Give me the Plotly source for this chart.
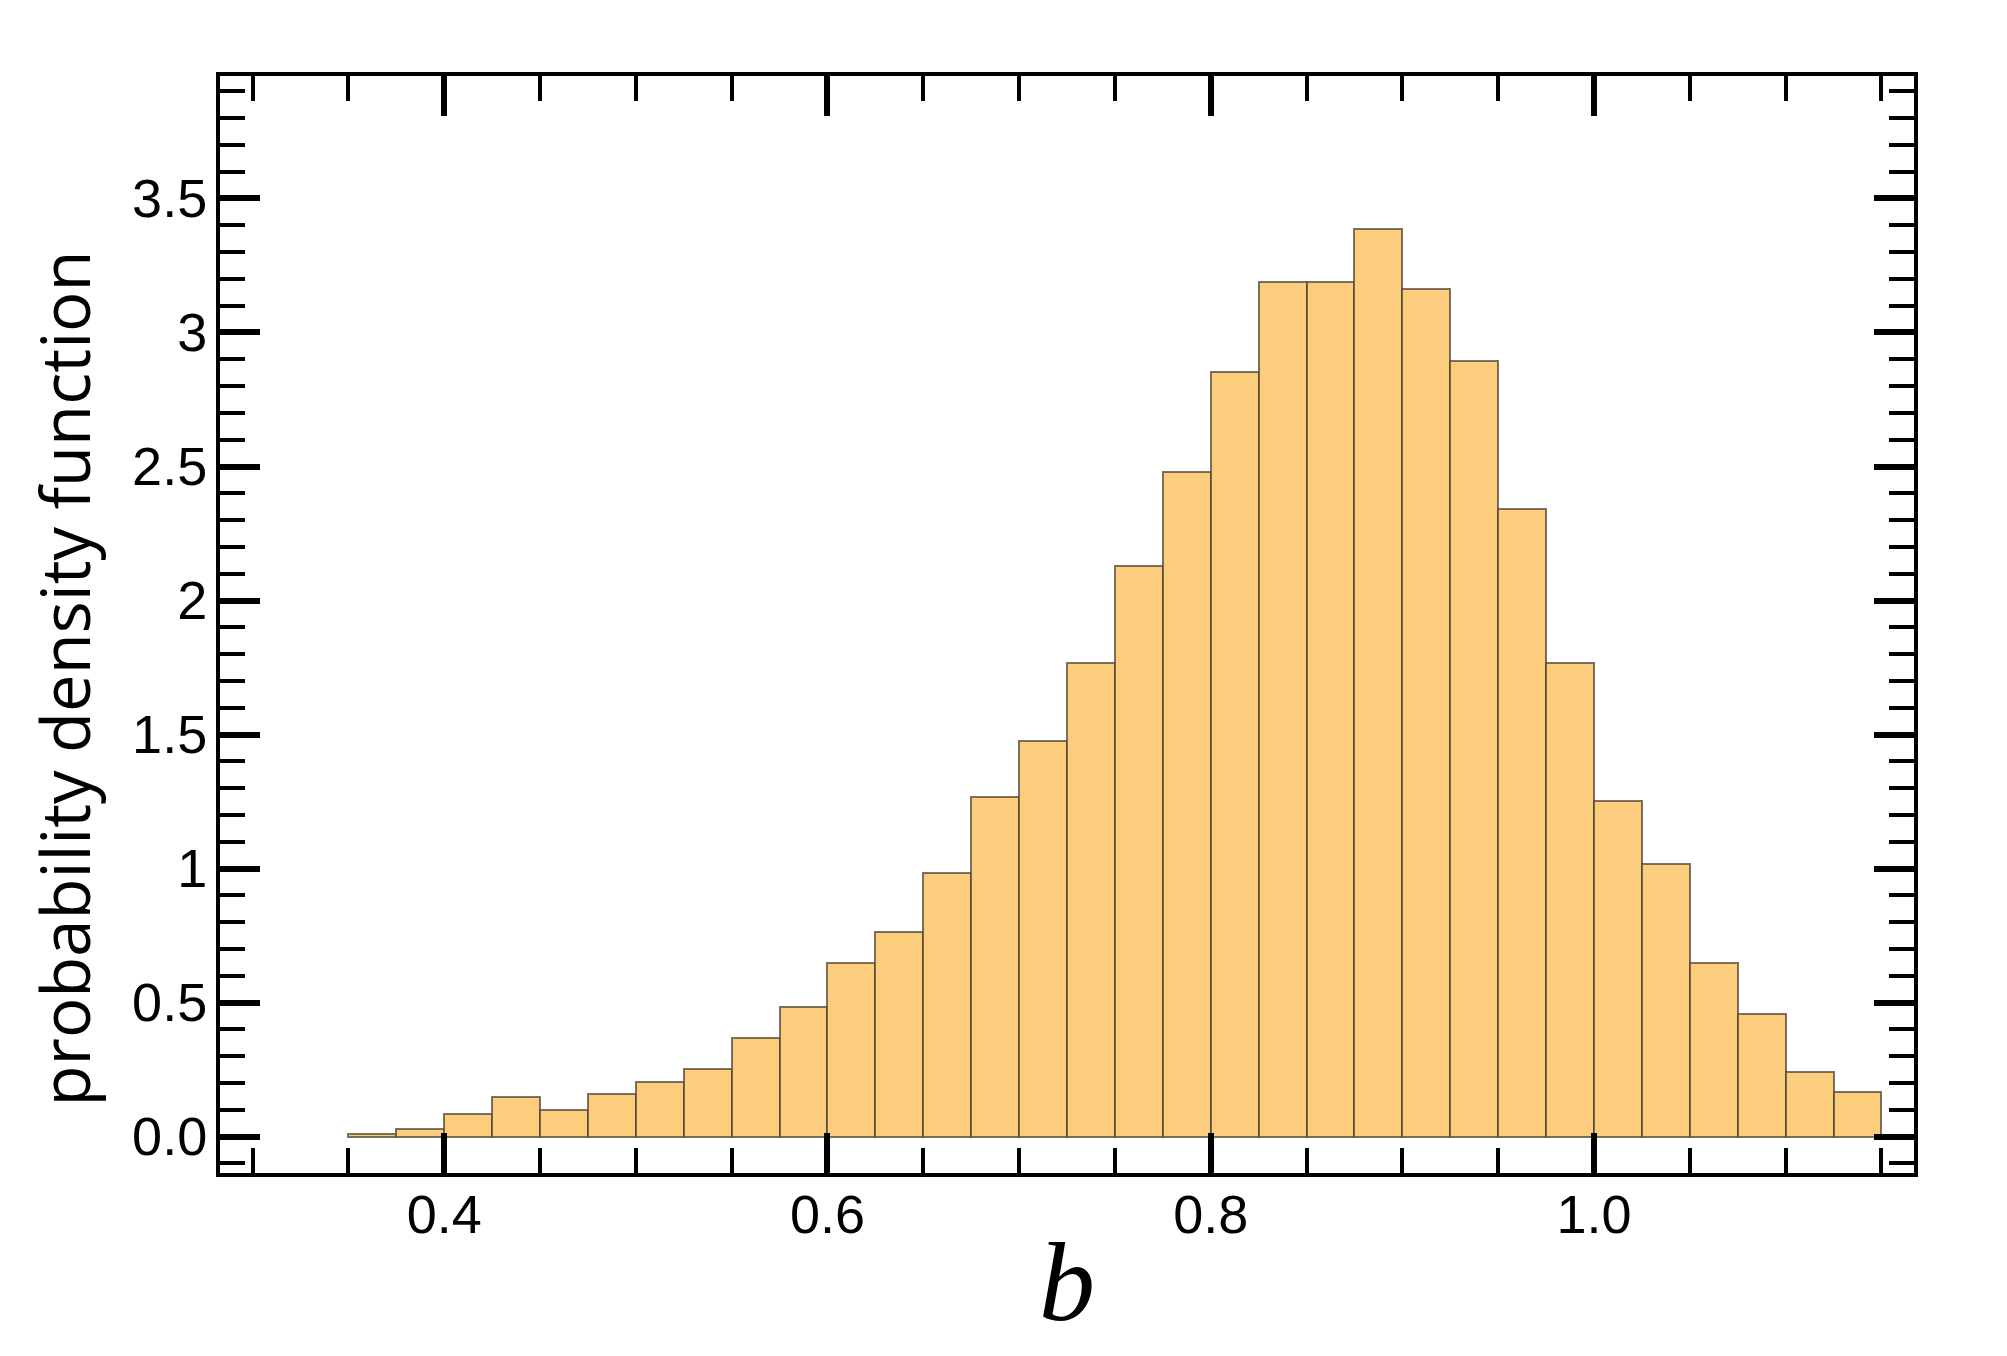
import plotly.graph_objects as go

# histogram of b, bin width 0.025 starting at 0.35
bin_start = 0.35
bin_width = 0.025
density = [0.01, 0.03, 0.086, 0.148, 0.10, 0.158, 0.205, 0.253,
           0.368, 0.482, 0.649, 0.764, 0.984, 1.266, 1.476, 1.767,
           2.13, 2.478, 2.851, 3.19, 3.19, 3.386, 3.161, 2.894,
           2.34, 1.767, 1.251, 1.017, 0.649, 0.458, 0.239, 0.167]

x_ticks = [0.4, 0.6, 0.8, 1.0]
x_ticktext = ["0.4", "0.6", "0.8", "1.0"]
y_ticks = [0, 0.5, 1, 1.5, 2, 2.5, 3, 3.5]
y_ticktext = ["0.0", "0.5", "1", "1.5", "2", "2.5", "3", "3.5"]

centers = [bin_start + bin_width * (i + 0.5) for i in range(len(density))]

fig = go.Figure(go.Bar(
    x=centers, y=density, width=bin_width,
    marker=dict(color="#FCCD7C", line=dict(color="rgba(80,70,55,0.75)", width=2)),
))

axis_common = dict(
    showline=True, linewidth=4, linecolor="black", mirror="allticks",
    ticks="inside", tickwidth=6, tickcolor="black", ticklen=40,
    showgrid=False, zeroline=False,
    tickfont=dict(family="Liberation Sans, Arial", size=54, color="black"),
)

fig.update_xaxes(
    **axis_common,
    range=[0.283, 1.167], tickvals=x_ticks, ticktext=x_ticktext,
    ticklabelstandoff=-9,
    minor=dict(tick0=0.3, dtick=0.05, ticks="inside", ticklen=25, tickwidth=4, tickcolor="black"),
    title=dict(text="<i>b</i>", font=dict(family="Liberation Serif", size=112, color="black"), standoff=0),
)
fig.update_yaxes(
    **axis_common,
    range=[-0.136, 3.957], tickvals=y_ticks, ticktext=y_ticktext,
    ticklabelstandoff=-2,
    minor=dict(tick0=0, dtick=0.1, ticks="inside", ticklen=25, tickwidth=4, tickcolor="black"),
)

fig.add_annotation(
    text="probability density function", textangle=-90, showarrow=False,
    xref="paper", yref="paper", x=-0.092, y=0.451, xanchor="center", yanchor="middle",
    font=dict(family="Open Sans", size=67, color="black"),
)

fig.update_layout(
    width=1999, height=1348,
    margin=dict(l=212, r=93, t=68, b=183, autoexpand=False),
    paper_bgcolor="white", plot_bgcolor="white",
    bargap=0, showlegend=False,
)

fig.write_html("out.html")
